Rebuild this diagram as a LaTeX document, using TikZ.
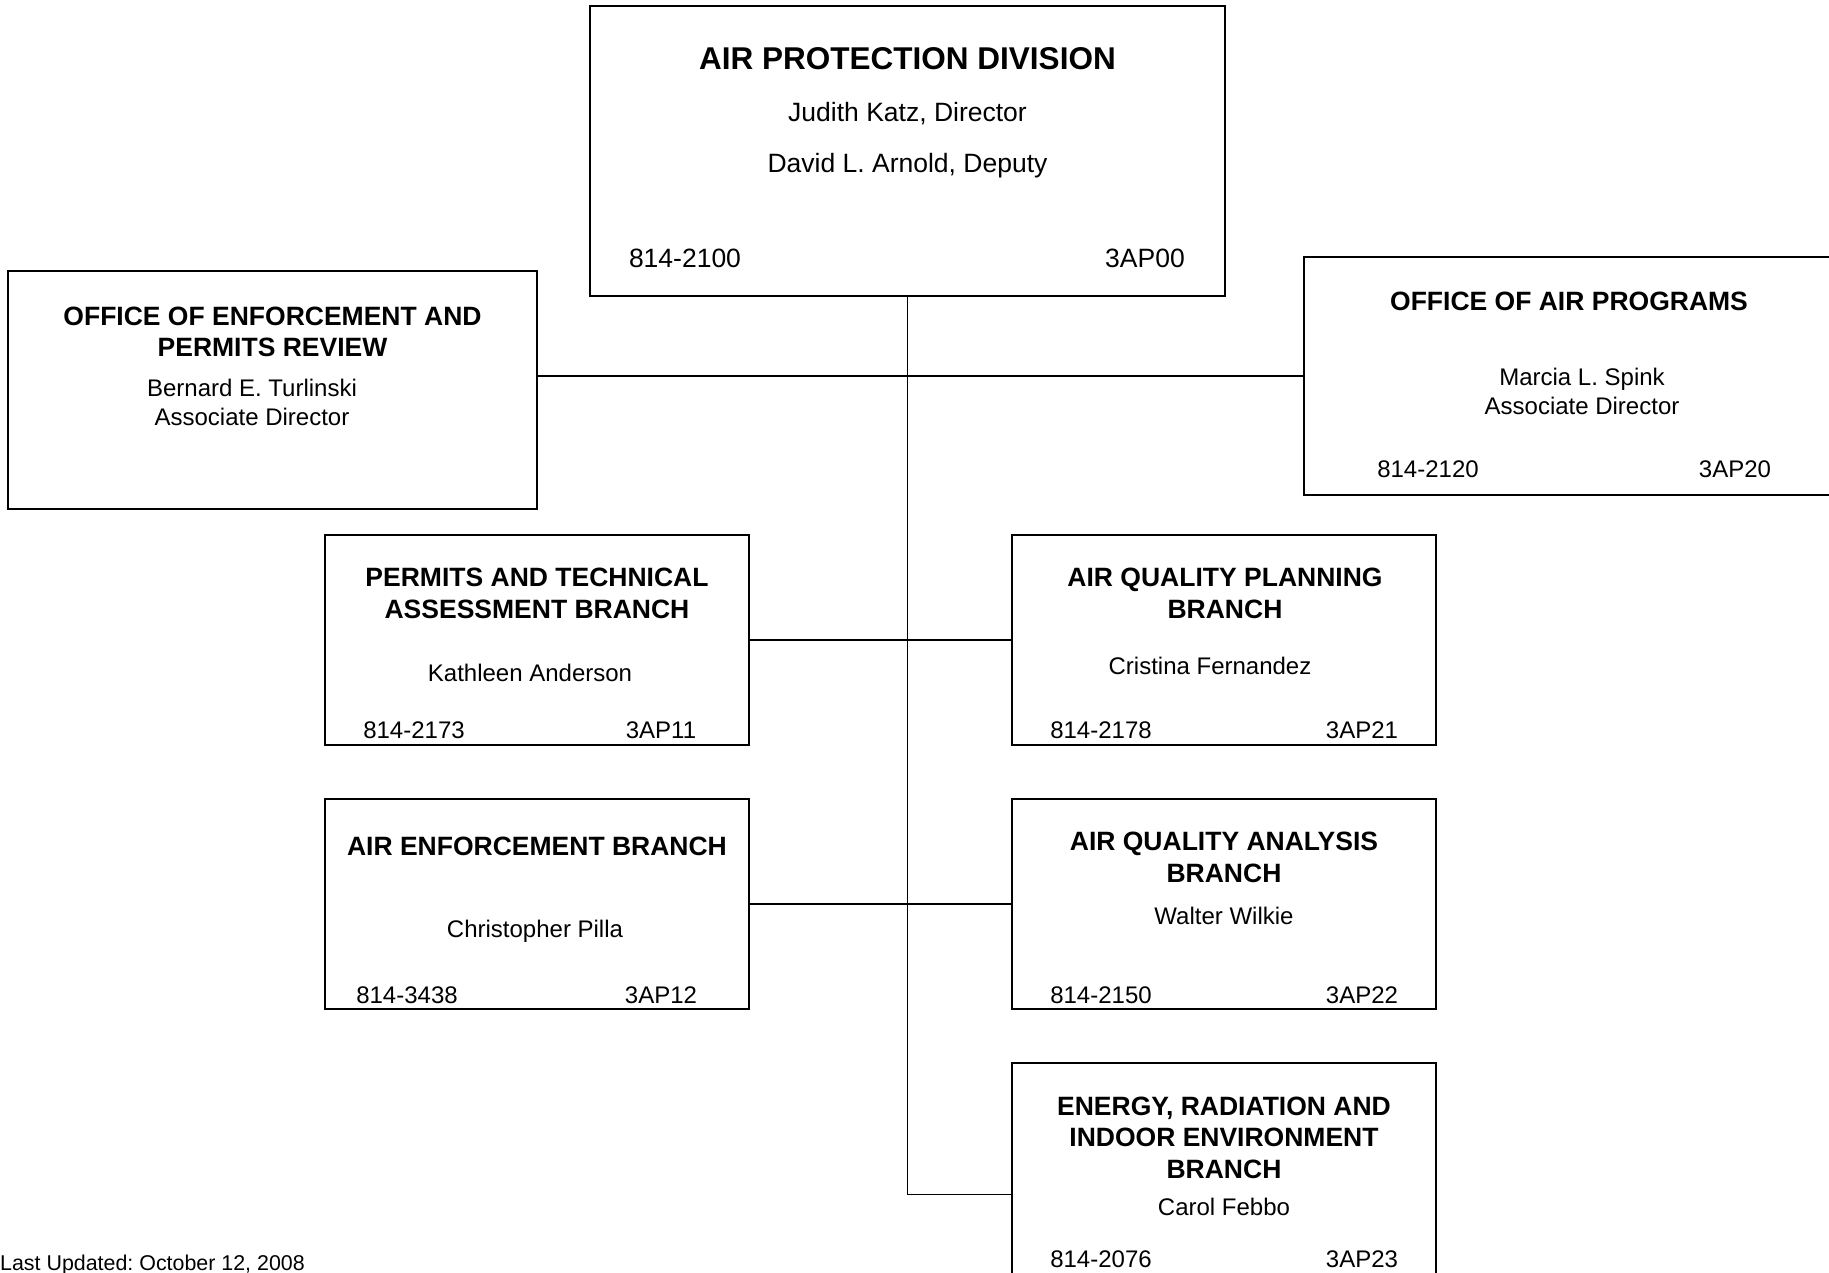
\documentclass[tikz,border=0pt]{standalone}
\usepackage{fontspec}
\setmainfont{Liberation Sans}
\frenchspacing
\begin{document}
\begin{tikzpicture}[x=1pt,y=-1pt,
    box/.style={draw,line width=1.5pt,rectangle,inner sep=0pt},
    head/.style={font=\fontsize{26.5}{31.5}\selectfont\bfseries,align=center},
    who/.style={font=\fontsize{24}{29}\selectfont,align=center},
    num/.style={font=\fontsize{24}{29}\selectfont},
    tophead/.style={font=\fontsize{31.5}{36}\selectfont\bfseries},
    topwho/.style={font=\fontsize{26.5}{31}\selectfont}]
  \clip (0,0) rectangle (1829,1272);
  \node[box,minimum width=635pt,minimum height=290pt] (apd) at (907.5,151) {};
  \node[box,minimum width=529pt,minimum height=238pt] (oepr) at (272.5,390) {};
  \node[box,minimum width=532pt,minimum height=238pt] (oap) at (1570,376) {};
  \node[box,minimum width=424pt,minimum height=210pt] (ptab) at (537,640) {};
  \node[box,minimum width=424pt,minimum height=210pt] (aeb) at (537,904) {};
  \node[box,minimum width=424pt,minimum height=210pt] (aqpb) at (1224,640) {};
  \node[box,minimum width=424pt,minimum height=210pt] (aqab) at (1224,904) {};
  \node[box,minimum width=424pt,minimum height=263pt] (erie) at (1224,1194.5) {};
  \draw
    (907.5,59) node[tophead] (apdhead) {AIR PROTECTION DIVISION}
    (907.5,113.5) node[topwho] (apddir) {Judith Katz, Director}
    (907.5,166) node[topwho] (apddep) {David L. Arnold, Deputy}
    (685,258) node[topwho] (apdtel) {814-2100}
    (1145,258) node[topwho] (apdcode) {3AP00};
  \draw
    (272.5,332) node[head] (oeprhead) {OFFICE OF ENFORCEMENT AND\\PERMITS REVIEW}
    (252,402) node[who] (oeprwho) {Bernard E. Turlinski\\Associate Director};
  \draw
    (1569,301.5) node[head] (oaphead) {OFFICE OF AIR PROGRAMS}
    (1582,391) node[who] (oapwho) {Marcia L. Spink\\Associate Director}
    (1428,469) node[num] (oaptel) {814-2120}
    (1735,469) node[num] (oapcode) {3AP20};
  \draw
    (537,593.5) node[head] (ptabhead) {PERMITS AND TECHNICAL\\ASSESSMENT BRANCH}
    (530,673) node[who] (ptabwho) {Kathleen Anderson}
    (414,730.5) node[num] (ptabtel) {814-2173}
    (661,730.5) node[num] (ptabcode) {3AP11};
  \draw
    (537,846.5) node[head] (aebhead) {AIR ENFORCEMENT BRANCH}
    (535,931) node[who] (aebwho) {Christopher Pilla}
    (407,995.5) node[num] (aebtel) {814-3438}
    (661,995.5) node[num] (aebcode) {3AP12};
  \draw
    (1225,593.5) node[head] (aqpbhead) {AIR QUALITY PLANNING\\BRANCH}
    (1210,665.5) node[who] (aqpbwho) {Cristina Fernandez}
    (1101,730.5) node[num] (aqpbtel) {814-2178}
    (1362,730.5) node[num] (aqpbcode) {3AP21};
  \draw
    (1224,857.5) node[head] (aqabhead) {AIR QUALITY ANALYSIS\\BRANCH}
    (1224,915.5) node[who] (aqabwho) {Walter Wilkie}
    (1101,995.5) node[num] (aqabtel) {814-2150}
    (1362,995.5) node[num] (aqabcode) {3AP22};
  \draw
    (1224,1137.5) node[head] (eriehead) {ENERGY, RADIATION AND\\INDOOR ENVIRONMENT\\BRANCH}
    (1224,1206.5) node[who] (eriewho) {Carol Febbo}
    (1101,1259.5) node[num] (erietel) {814-2076}
    (1362,1259.5) node[num] (eriecode) {3AP23};
  \node[anchor=base west,inner sep=0pt,font=\fontsize{21.4}{25}\selectfont] (updated) at (0,1270) {Last Updated: October 12, 2008};
  \coordinate (stub) at (855,376);
  \begin{scope}[line width=1.5pt]
    \draw (apd.south) |- (erie.west);
    \draw (oepr.east |- oap.west) -- (oap.west);
    \draw[line width=2.7pt] (stub) -- (apd.south |- oap.west);
    \draw (ptab.east) -- (aqpb.west);
    \draw (aeb.east) -- (aqab.west);
  \end{scope}
\end{tikzpicture}
\end{document}
